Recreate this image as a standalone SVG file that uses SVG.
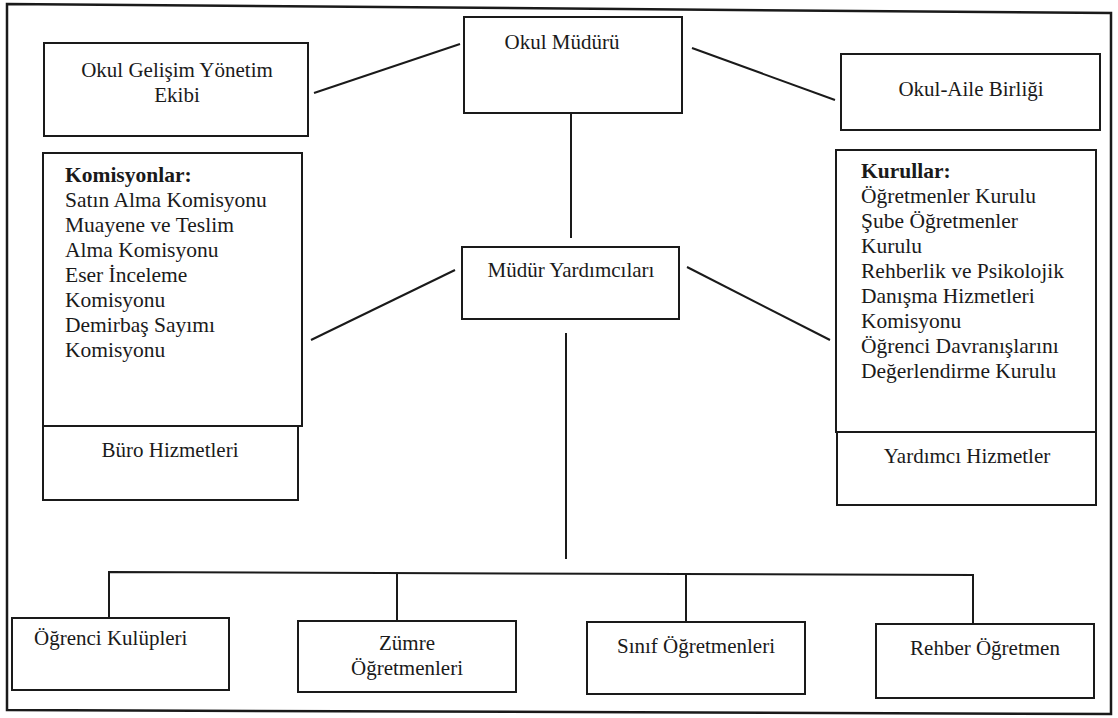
<svg xmlns="http://www.w3.org/2000/svg" width="1118" height="718" viewBox="0 0 1118 718">
<style>
.bx{fill:#fff;stroke:#1a1a1a;stroke-width:2}
.ln{fill:none;stroke:#1a1a1a;stroke-width:2}
.t{font-family:"Liberation Serif","Times New Roman",serif;font-size:21px;fill:#1a1a1a}
.c{text-anchor:middle}
.l{font-family:"Liberation Serif","Times New Roman",serif;font-size:21.5px;fill:#1a1a1a}
.b{font-weight:bold}
</style>
<rect width="1118" height="718" fill="#fff"/>
<polygon id="frame" points="7,4 1111,13 1111,714 7,710" fill="none" stroke="#1a1a1a" stroke-width="2.5"/>
<g id="connectors">
<line class="ln" x1="314" y1="93" x2="460" y2="44"/>
<line class="ln" x1="692" y1="48" x2="835" y2="100"/>
<line class="ln" x1="571" y1="108" x2="571" y2="238"/>
<line class="ln" x1="311" y1="340" x2="455" y2="270"/>
<line class="ln" x1="687" y1="267" x2="830" y2="340"/>
<line class="ln" x1="566" y1="333" x2="566" y2="559"/>
<polyline class="ln" points="109,618 109,572 973,575 973,624"/>
<line class="ln" x1="397" y1="572.5" x2="397" y2="621"/>
<line class="ln" x1="686" y1="574" x2="686" y2="622"/>
</g>
<g id="okul-mudur">
<rect class="bx" x="464" y="17" width="218" height="96"/>
<text class="t c" x="562" y="49">Okul Müdürü</text>
</g>
<g id="ogye">
<rect class="bx" x="44" y="43" width="264" height="93"/>
<text class="t c" x="177" y="77">Okul Gelişim Yönetim</text>
<text class="t c" x="177" y="102">Ekibi</text>
</g>
<g id="okul-aile">
<rect class="bx" x="841" y="54" width="259" height="76"/>
<text class="t c" x="971" y="96">Okul-Aile Birliği</text>
</g>
<g id="mudur-yrd">
<rect class="bx" x="462" y="247" width="217" height="72"/>
<text class="t c" x="571" y="277">Müdür Yardımcıları</text>
</g>
<g id="komisyonlar">
<rect class="bx" x="43" y="153" width="259" height="273"/>
<text class="l b" x="65" y="182">Komisyonlar:</text>
<text class="l" x="65" y="207">Satın Alma Komisyonu</text>
<text class="l" x="65" y="232">Muayene ve Teslim</text>
<text class="l" x="65" y="257">Alma Komisyonu</text>
<text class="l" x="65" y="282">Eser İnceleme</text>
<text class="l" x="65" y="307">Komisyonu</text>
<text class="l" x="65" y="332">Demirbaş Sayımı</text>
<text class="l" x="65" y="357">Komisyonu</text>
</g>
<g id="buro">
<rect class="bx" x="43" y="426" width="255" height="74"/>
<text class="t c" x="170" y="457">Büro Hizmetleri</text>
</g>
<g id="kurullar">
<rect class="bx" x="836" y="150" width="260" height="282"/>
<text class="l b" x="861" y="178">Kurullar:</text>
<text class="l" x="861" y="203">Öğretmenler Kurulu</text>
<text class="l" x="861" y="228">Şube Öğretmenler</text>
<text class="l" x="861" y="253">Kurulu</text>
<text class="l" x="861" y="278">Rehberlik ve Psikolojik</text>
<text class="l" x="861" y="303">Danışma Hizmetleri</text>
<text class="l" x="861" y="328">Komisyonu</text>
<text class="l" x="861" y="353">Öğrenci Davranışlarını</text>
<text class="l" x="861" y="378">Değerlendirme Kurulu</text>
</g>
<g id="yardimci">
<rect class="bx" x="837" y="432" width="259" height="73"/>
<text class="t c" x="967" y="463">Yardımcı Hizmetler</text>
</g>
<g id="ogrenci-kulupleri">
<rect class="bx" x="12" y="618" width="217" height="72"/>
<text class="t" x="34" y="645">Öğrenci Kulüpleri</text>
</g>
<g id="zumre">
<rect class="bx" x="298" y="621" width="218" height="71"/>
<text class="t c" x="407" y="650">Zümre</text>
<text class="t c" x="407" y="675">Öğretmenleri</text>
</g>
<g id="sinif">
<rect class="bx" x="587" y="622" width="218" height="72"/>
<text class="t c" x="696" y="653">Sınıf Öğretmenleri</text>
</g>
<g id="rehber">
<rect class="bx" x="876" y="624" width="218" height="74"/>
<text class="t c" x="985" y="655">Rehber Öğretmen</text>
</g>
</svg>
